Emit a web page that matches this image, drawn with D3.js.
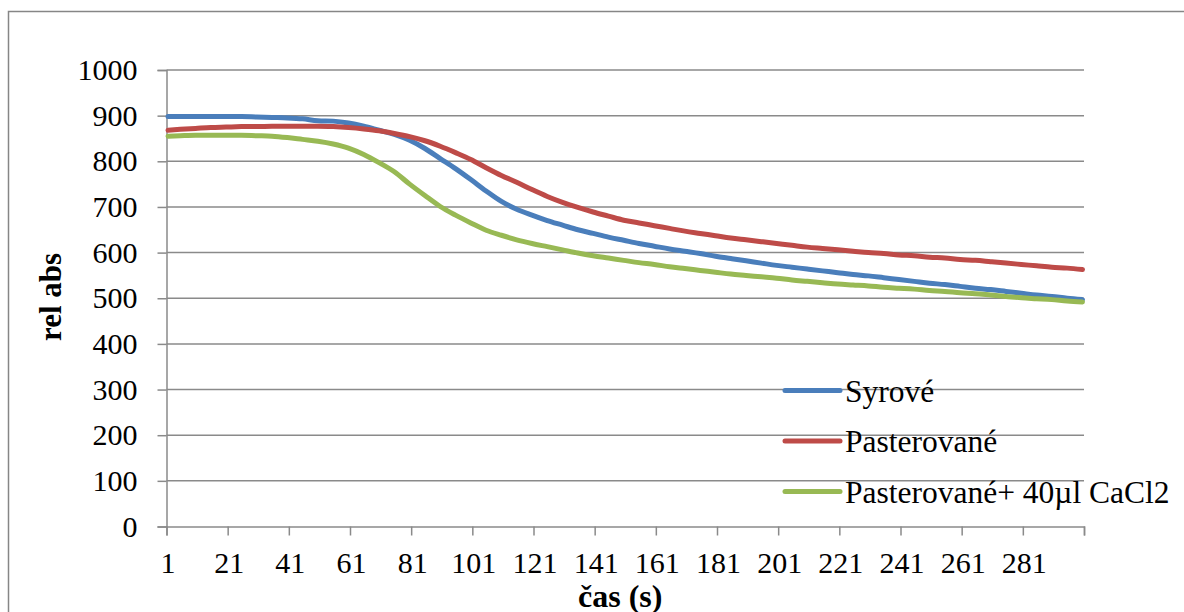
<!DOCTYPE html>
<html>
<head>
<meta charset="utf-8">
<script src="https://cdn.jsdelivr.net/npm/d3@7"></script>
<style>
  body { margin: 0; background: #fff; }
</style>
</head>
<body>
<script>
// time points (category index) at which the curves were read
const sampleTimes = [1,5,10,15,20,25,30,35,40,45,50,55,60,65,70,75,80,85,90,95,100,
  105,110,115,120,125,130,135,140,145,150,155,160,165,170,175,180,185,190,195,200,
  205,210,215,220,225,230,235,240,245,250,255,260,265,270,275,280,285,290,295,300];

const syrove = [898,898,898,898,898,898,897,896,895,893,889,888,884,877,868,859,846,828,806,784,760,
  735,712,695,682,670,660,650,642,634,627,620,614,608,603,598,592,587,582,577,572,
  568,564,560,556,552,549,545,541,537,533,530,526,522,519,515,511,507,504,500,497];

const pasterovane = [868,870,872,874,875,876,876,877,877,877,877,876,874,871,867,861,854,845,833,819,804,
  786,769,754,738,723,710,699,689,680,671,665,659,653,647,642,637,632,628,624,620,
  616,612,609,606,603,600,598,595,593,590,588,585,583,580,577,574,571,568,566,563];

const pasterovaneCa = [855,856,857,857,857,857,856,855,852,848,844,838,829,815,797,777,750,725,701,682,665,
  649,638,628,620,613,606,599,593,588,583,578,574,569,565,561,557,553,550,547,544,
  540,537,534,531,529,527,524,522,520,517,515,512,510,507,504,501,499,497,494,492];

const seriesNames = ["Syrové", "Pasterované", "Pasterované+ 40µl CaCl2"];
const seriesColors = ["#4a7ebb", "#be4b48", "#98b954"];
const xTickLabels = [1,21,41,61,81,101,121,141,161,181,201,221,241,261,281];
const yTicks = [0,100,200,300,400,500,600,700,800,900,1000];
const nCategories = 300;

const width = 1184, height = 612;
const plot = {left: 166.5, right: 1084, top: 70, bottom: 526.5};
const gridColor = "#8a8a8a";
const serif = '"Liberation Serif", "Times New Roman", serif';

const svg = d3.select("body").append("svg")
  .attr("width", width)
  .attr("height", height);

// chart frame
svg.append("rect")
  .attr("x", 8.5).attr("y", 11.5)
  .attr("width", width + 20).attr("height", height + 20)
  .attr("fill", "none")
  .attr("stroke", "#868686")
  .attr("stroke-width", 1.5);

const x = d3.scaleBand()
  .domain(d3.range(1, nCategories + 1))
  .range([plot.left, plot.right]);
const xEdge = d3.scaleLinear().domain([0, nCategories]).range([plot.left, plot.right]);
const y = d3.scaleLinear().domain([0, 1000]).range([plot.bottom, plot.top]);

// horizontal gridlines
svg.append("g")
  .selectAll("line")
  .data(yTicks.filter(d => d > 0))
  .enter().append("line")
    .attr("x1", plot.left).attr("x2", plot.right)
    .attr("y1", d => y(d)).attr("y2", d => y(d))
    .attr("stroke", gridColor)
    .attr("stroke-width", 1.5);

// y axis
svg.append("g")
  .attr("transform", "translate(" + plot.left + ",0)")
  .call(d3.axisLeft(y).tickValues(yTicks).tickSize(9).tickPadding(20).tickFormat(d3.format("d")));

// x axis: ticks on category boundaries, labels on category centers
svg.append("g")
  .attr("transform", "translate(0," + plot.bottom + ")")
  .call(d3.axisBottom(xEdge).tickValues(d3.range(0, nCategories + 1, 20)).tickSize(9).tickFormat(""));
const xLabels = svg.append("g")
  .attr("transform", "translate(0," + plot.bottom + ")")
  .call(d3.axisBottom(x).tickValues(xTickLabels).tickSize(0).tickPadding(25));
xLabels.select(".domain").remove();

svg.selectAll(".domain, .tick line")
  .attr("stroke", gridColor)
  .attr("stroke-width", 1.5);

// series
const allSeries = [syrove, pasterovane, pasterovaneCa];
const line = d3.line()
  .x((d, i) => x(sampleTimes[i]) + x.bandwidth() / 2)
  .y(d => y(d))
  .curve(d3.curveMonotoneX);

svg.append("g")
  .selectAll("path")
  .data(allSeries)
  .enter().append("path")
    .attr("d", line)
    .attr("fill", "none")
    .attr("stroke", (d, i) => seriesColors[i])
    .attr("stroke-width", 5)
    .attr("stroke-linejoin", "round")
    .attr("stroke-linecap", "round");

// legend
const legend = svg.append("g")
  .attr("transform", "translate(785,390.5)");
const item = legend.selectAll("g")
  .data(seriesNames)
  .enter().append("g")
    .attr("transform", (d, i) => "translate(0," + i * 50.5 + ")");
item.append("line")
  .attr("x1", 0).attr("x2", 55)
  .attr("stroke", (d, i) => seriesColors[i])
  .attr("stroke-width", 5)
  .attr("stroke-linecap", "round");
item.append("text")
  .attr("class", "legend")
  .attr("x", 60)
  .attr("dy", "0.35em")
  .text(d => d);

// axis titles
svg.append("text")
  .attr("class", "title")
  .attr("x", (plot.left + plot.right) / 2 - 5)
  .attr("y", 607)
  .attr("text-anchor", "middle")
  .style("font-size", "32px")
  .text("čas (s)");

svg.append("text")
  .attr("class", "title")
  .attr("transform", "translate(61,297) rotate(-90)")
  .attr("text-anchor", "middle")
  .style("font-size", "31px")
  .text("rel abs");

svg.selectAll("text")
  .style("font-family", serif)
  .attr("fill", "#000");
svg.selectAll("text:not(.title)").style("font-size", "30px");
svg.selectAll("text.legend").style("font-size", "31.5px");
svg.selectAll("text.title").style("font-weight", "bold");
</script>
</body>
</html>
